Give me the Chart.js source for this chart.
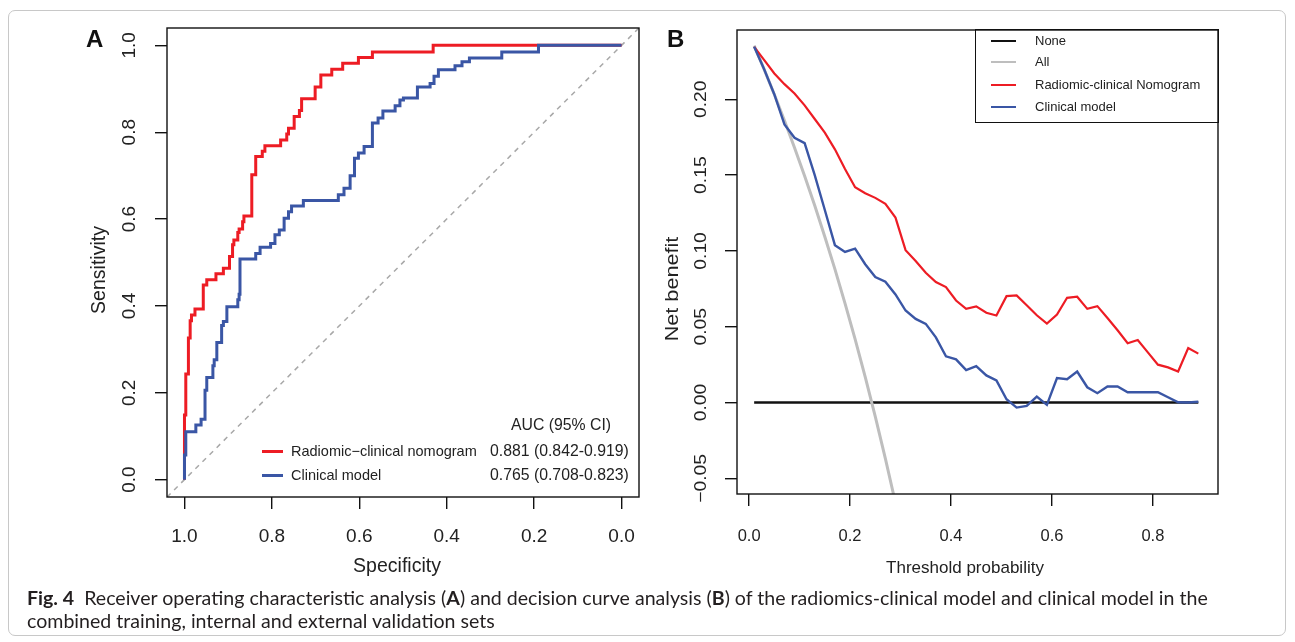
<!DOCTYPE html>
<html>
<head>
<meta charset="utf-8">
<script src="https://cdn.jsdelivr.net/npm/chart.js@4.4.1/dist/chart.umd.min.js"></script>
<style>
  body { margin: 0; background: #fff; }
  #page { position: relative; width: 1295px; height: 642px; overflow: hidden; background: #fff; font-family: "Liberation Sans", Arial, sans-serif; color: #222; }
  #border { position: absolute; left: 8px; top: 10px; width: 1276px; height: 624px; border: 1px solid #c8c8c8; border-radius: 7px; }
  .letter { position: absolute; font-weight: bold; font-size: 24px; line-height: 24px; color: #111; }
  canvas { position: absolute; top: 0; }
  .lg { position: absolute; font-size: 14.5px; line-height: 16px; white-space: nowrap; color: #222; }
  .auc { position: absolute; font-size: 15.8px; line-height: 16px; white-space: nowrap; color: #222; }
  .sw { position: absolute; height: 2.5px; }
  #legB { position: absolute; left: 975px; top: 29px; width: 242px; height: 92px; border: 1.4px solid #111; }
  .lb { position: absolute; font-size: 13px; line-height: 14px; white-space: nowrap; color: #222; }
  #caption { position: absolute; left: 27px; top: 586px; font-family: Lato, "Open Sans", sans-serif; color: #231f20; white-space: nowrap; line-height: 23px; }
</style>
</head>
<body>
<div id="page">
  <div id="border"></div>
  <canvas id="roc" width="650" height="590" style="left:0"></canvas>
  <canvas id="dca" width="600" height="590" style="left:650px"></canvas>
  <div class="letter" style="left:86px;top:27px">A</div>
  <div class="letter" style="left:667px;top:27px">B</div>

  <div class="auc" style="left:511px;top:417px">AUC (95% CI)</div>
  <div class="sw" style="left:262px;top:450px;width:21px;background:#ED1C24"></div>
  <div class="lg" style="left:291px;top:443px">Radiomic−clinical nomogram</div>
  <div class="auc" style="left:490px;top:443px">0.881 (0.842-0.919)</div>
  <div class="sw" style="left:262px;top:474px;width:21px;background:#3A56A5"></div>
  <div class="lg" style="left:291px;top:467px">Clinical model</div>
  <div class="auc" style="left:490px;top:467px">0.765 (0.708-0.823)</div>

  <div id="legB">
    <div class="sw" style="left:15px;top:10px;width:25px;height:2px;background:#111"></div>
    <div class="lb" style="left:59px;top:4px">None</div>
    <div class="sw" style="left:15px;top:31px;width:25px;height:2px;background:#BEBEBE"></div>
    <div class="lb" style="left:59px;top:25px">All</div>
    <div class="sw" style="left:15px;top:54px;width:25px;height:2px;background:#ED1C24"></div>
    <div class="lb" style="left:59px;top:48px">Radiomic-clinical Nomogram</div>
    <div class="sw" style="left:15px;top:76px;width:25px;height:2px;background:#3A56A5"></div>
    <div class="lb" style="left:59px;top:70px">Clinical model</div>
  </div>

  <div id="caption"><span id="line1"><b>Fig. 4</b>&nbsp; Receiver operating characteristic analysis (<b>A</b>) and decision curve analysis (<b>B</b>) of the radiomics-clinical model and clinical model in the</span><br>combined training, internal and external validation sets</div>
</div>
<script>
    // ROC curves (specificity, sensitivity) - tops of each step
    var nomSpec = [1.0, 1.0, 0.997, 0.991, 0.987, 0.984, 0.976, 0.957, 0.949, 0.928, 0.911, 0.897, 0.890, 0.887, 0.878, 0.875, 0.867, 0.864,
        0.846, 0.837, 0.822, 0.816, 0.780, 0.766, 0.762, 0.749, 0.737, 0.732, 0.701, 0.688, 0.663, 0.638, 0.602, 0.570, 0.431, 0.0];
    var nomSens = [0.0, 0.149, 0.243, 0.326, 0.366, 0.379, 0.393, 0.448, 0.460, 0.474, 0.487, 0.514, 0.541, 0.552, 0.569, 0.577, 0.594, 0.607,
        0.702, 0.744, 0.756, 0.769, 0.782, 0.796, 0.809, 0.836, 0.850, 0.877, 0.904, 0.932, 0.945, 0.959, 0.972, 0.985, 1.0, 1.0];
    var clinSpec = [1.0, 1.0, 0.997, 0.974, 0.962, 0.953, 0.949, 0.935, 0.932, 0.926, 0.915, 0.911, 0.903, 0.878, 0.875, 0.873, 0.837, 0.827,
        0.803, 0.793, 0.783, 0.772, 0.762, 0.755, 0.728, 0.648, 0.635, 0.621, 0.611, 0.602, 0.589, 0.570, 0.557, 0.546, 0.518, 0.507, 0.499,
        0.467, 0.438, 0.429, 0.419, 0.381, 0.365, 0.348, 0.274, 0.190, 0.0];
    var clinSens = [0.0, 0.057, 0.110, 0.126, 0.139, 0.206, 0.235, 0.262, 0.276, 0.316, 0.355, 0.364, 0.398, 0.414, 0.427, 0.508, 0.521, 0.535,
        0.544, 0.564, 0.575, 0.602, 0.617, 0.630, 0.643, 0.656, 0.671, 0.700, 0.740, 0.752, 0.767, 0.821, 0.833, 0.849, 0.861, 0.874, 0.879,
        0.904, 0.912, 0.929, 0.944, 0.953, 0.962, 0.971, 0.985, 1.0, 1.0];
    var rocTicks = [0, 0.2, 0.4, 0.6, 0.8, 1.0];
    var rocTickLabels = ['0.0', '0.2', '0.4', '0.6', '0.8', '1.0'];

    // decision curves
    var threshold = [0.01, 0.03, 0.05, 0.07, 0.09, 0.11, 0.13, 0.15, 0.17, 0.19, 0.21, 0.23, 0.25, 0.27, 0.29, 0.31, 0.33, 0.35, 0.37, 0.39,
        0.41, 0.43, 0.45, 0.47, 0.49, 0.51, 0.53, 0.55, 0.57, 0.59, 0.61, 0.63, 0.65, 0.67, 0.69, 0.71, 0.73, 0.75, 0.77, 0.79,
        0.81, 0.83, 0.85, 0.87, 0.89];
    var nbNomogram = [0.2346, 0.2258, 0.217, 0.210, 0.2038, 0.196, 0.187, 0.178, 0.167, 0.154, 0.142, 0.138, 0.135, 0.131, 0.122, 0.1005,
        0.0934, 0.0856, 0.0795, 0.0762, 0.0673, 0.0618, 0.0634, 0.0592, 0.0574, 0.0702, 0.0707, 0.0642, 0.0576, 0.0521, 0.0581, 0.0691,
        0.0698, 0.0618, 0.0636, 0.0558, 0.0477, 0.0391, 0.0413, 0.0331, 0.0250, 0.0232, 0.0205, 0.0360, 0.0323];
    var nbClinical = [0.2346, 0.2196, 0.2032, 0.1834, 0.1746, 0.1711, 0.150, 0.127, 0.1038, 0.0993, 0.1015, 0.0912, 0.0828, 0.0797, 0.0713,
        0.0607, 0.0552, 0.0519, 0.0430, 0.0305, 0.0285, 0.0214, 0.0240, 0.0179, 0.0146, 0.0022, -0.0033, -0.0022, 0.0040, -0.0015, 0.0161,
        0.0154, 0.0205, 0.0101, 0.0062, 0.0106, 0.0106, 0.0068, 0.0068, 0.0068, 0.0068, 0.0035, 0.0002, 0.0, 0.0005];
    var allThreshold = [0.01, 0.03, 0.05, 0.07, 0.09, 0.11, 0.13, 0.15, 0.17, 0.19, 0.21, 0.23, 0.25, 0.27, 0.29];
    var nbAll = [0.2354, 0.2196, 0.2032, 0.1860, 0.1681, 0.1494, 0.1299, 0.1094, 0.0880, 0.0654, 0.0418, 0.0169, -0.0093, -0.0370, -0.0662];
    var noneThreshold = [0.01, 0.89];
    var nbNone = [0, 0];
    var dcaXTicks = [0, 0.2, 0.4, 0.6, 0.8];
    var dcaXLabels = ['0.0', '0.2', '0.4', '0.6', '0.8'];
    var dcaYTicks = [-0.05, 0, 0.05, 0.1, 0.15, 0.2];
    var dcaYLabels = ['\u22120.05', '0.00', '0.05', '0.10', '0.15', '0.20'];

    var RED = '#ED1C24', BLUE = '#3A56A5';
    Chart.defaults.font.family = '"Liberation Sans", Arial, sans-serif';
    Chart.defaults.color = '#222';

    function pts(xs, ys) {
        return xs.map(function (x, i) { return { x: x, y: ys[i] }; });
    }

    function rotText(ctx, txt, x, y, stretch) {
        ctx.save();
        ctx.translate(x, y);
        ctx.rotate(-Math.PI / 2);
        ctx.scale(stretch, 1);
        ctx.fillText(txt, 0, 0);
        ctx.restore();
    }

    // box around plot, rotated y tick labels and axis titles (R style)
    var rBox = {
        id: 'rBox',
        afterDraw: function (chart) {
            var ctx = chart.ctx, a = chart.chartArea, o = chart.options.plugins.rBox;
            ctx.save();
            ctx.strokeStyle = '#111';
            ctx.lineWidth = 1.4;
            ctx.strokeRect(a.left, a.top, a.right - a.left, a.bottom - a.top);
            ctx.fillStyle = '#222';
            ctx.textAlign = 'center';
            ctx.textBaseline = 'middle';
            ctx.font = o.font;
            o.ticks.forEach(function (v, i) {
                rotText(ctx, o.labels[i], o.labelX, chart.scales.y.getPixelForValue(v), o.stretch);
            });
            ctx.font = o.titleFont;
            rotText(ctx, o.title, o.titleX, o.titleY, o.stretch);
            ctx.font = o.xTitleFont;
            ctx.fillText(o.xTitle, o.xTitleX, o.xTitleY);
            ctx.restore();
        }
    };

    function axis(min, max, ticks, labels, size, pad, fitSize, isX, reverse) {
        return {
            type: 'linear', min: min, max: max, reverse: !!reverse,
            afterBuildTicks: function (s) { s.ticks = ticks.map(function (v) { return { value: v }; }); },
            afterFit: function (s) { if (isX) s.height = fitSize; else s.width = fitSize; },
            border: { display: false },
            grid: { drawOnChartArea: false, drawTicks: true, tickLength: 12, color: '#111', lineWidth: 1.4 },
            ticks: {
                display: isX, autoSkip: false, maxRotation: 0, padding: pad, color: '#222',
                font: { size: size, lineHeight: 1 },
                callback: function (v) { return labels[ticks.indexOf(v)]; }
            }
        };
    }

    new Chart(document.getElementById('roc'), {
        type: 'line',
        data: {
            datasets: [
                { data: pts(clinSpec, clinSens), borderColor: BLUE, borderWidth: 3, stepped: 'before' },
                { data: pts(nomSpec, nomSens), borderColor: RED, borderWidth: 3, stepped: 'before' },
                { data: [{ x: 1.04, y: -0.04 }, { x: -0.04, y: 1.04 }], borderColor: '#A8A8A8', borderWidth: 1.5, borderDash: [5, 5] }
            ]
        },
        options: {
            responsive: false, animation: false,
            layout: { padding: { left: 0, top: 28, right: 11, bottom: 0 } },
            elements: { point: { radius: 0 }, line: { tension: 0 } },
            plugins: {
                legend: { display: false }, tooltip: { enabled: false },
                rBox: {
                    font: '19px "Liberation Sans", Arial, sans-serif', labelX: 130, ticks: rocTicks, labels: rocTickLabels, stretch: 1,
                    title: 'Sensitivity', titleFont: '19.5px "Liberation Sans", Arial, sans-serif', titleX: 100, titleY: 270,
                    xTitle: 'Specificity', xTitleFont: '19.5px "Liberation Sans", Arial, sans-serif', xTitleX: 397, xTitleY: 567
                }
            },
            scales: {
                x: axis(-0.04, 1.04, rocTicks, rocTickLabels, 19, 18.5, 93, true, true),
                y: axis(-0.04, 1.04, rocTicks, rocTickLabels, 19, 0, 167, false)
            }
        },
        plugins: [rBox]
    });

    new Chart(document.getElementById('dca'), {
        type: 'line',
        data: {
            datasets: [
                { data: pts(threshold, nbClinical), borderColor: BLUE, borderWidth: 2.4 },
                { data: pts(threshold, nbNomogram), borderColor: RED, borderWidth: 2.2 },
                { data: pts(allThreshold, nbAll), borderColor: '#BEBEBE', borderWidth: 3, clip: 0 },
                { data: pts(noneThreshold, nbNone), borderColor: '#111', borderWidth: 2.6 }
            ]
        },
        options: {
            responsive: false, animation: false,
            layout: { padding: { left: 0, top: 30, right: 32, bottom: 0 } },
            elements: { point: { radius: 0 }, line: { tension: 0 } },
            plugins: {
                legend: { display: false }, tooltip: { enabled: false },
                rBox: {
                    font: '16.5px "Liberation Sans", Arial, sans-serif', labelX: 51, ticks: dcaYTicks, labels: dcaYLabels, stretch: 1.17,
                    title: 'Net benefit', titleFont: '18.5px "Liberation Sans", Arial, sans-serif', titleX: 23, titleY: 289,
                    xTitle: 'Threshold probability', xTitleFont: '17px "Liberation Sans", Arial, sans-serif', xTitleX: 315, xTitleY: 568
                }
            },
            scales: {
                x: axis(-0.024, 0.929, dcaXTicks, dcaXLabels, 16.5, 22.5, 96, true),
                y: axis(-0.0603, 0.2457, dcaYTicks, dcaYLabels, 16.5, 0, 87, false)
            }
        },
        plugins: [rBox]
    });

    // fit caption width to the figure
    var cap = document.getElementById('caption');
    cap.style.fontSize = '16px';
    var w = document.getElementById('line1').getBoundingClientRect().width;
    cap.style.fontSize = (16 * 1181 / w).toFixed(2) + 'px';
</script>
</body>
</html>
